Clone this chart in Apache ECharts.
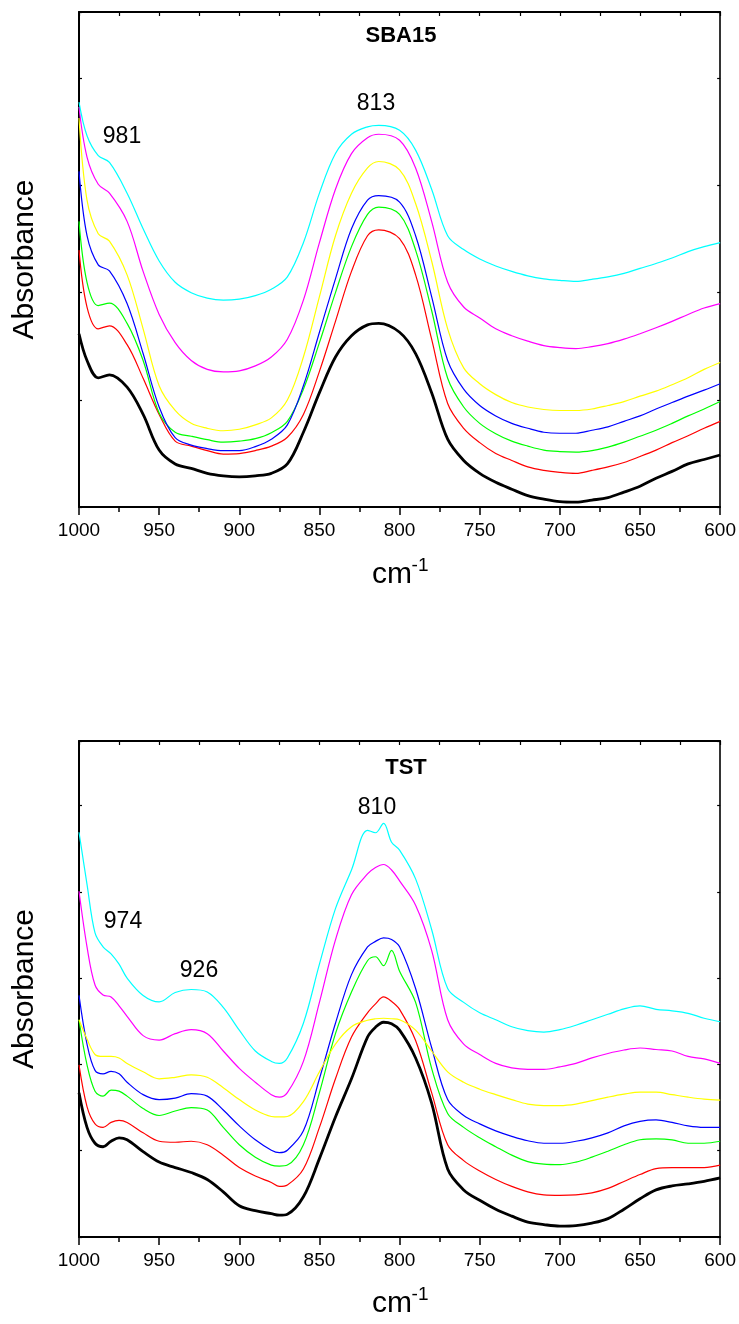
<!DOCTYPE html>
<html><head><meta charset="utf-8">
<script src="https://cdn.jsdelivr.net/npm/echarts@6/dist/echarts.min.js"></script>
<style>html,body{margin:0;padding:0;background:#fff}#c{width:739px;height:1324px}</style>
</head><body><div id="c"></div>
<script>
// ---------- DATA ----------
const seriesNames = ['black', 'red', 'green', 'blue', 'yellow', 'magenta', 'cyan'];
const seriesColors = ['#000000', '#ff0000', '#00ff00', '#0000ff', '#ffff00', '#ff00ff', '#00ffff'];
const xTickValues = [1000, 950, 900, 850, 800, 750, 700, 650, 600];

// SBA15 panel (wavenumber, cm-1)
const wnSBA = [1000, 995, 988, 981, 970, 960, 950, 940, 930, 920, 910, 900, 890, 880, 870, 860, 850, 840, 830, 820, 813,
  800, 790, 780, 770, 760, 750, 740, 730, 720, 710, 700, 690, 680, 670, 660, 650, 640, 630, 620, 610, 600];
const sbaBlack = [35.0, 29.6, 26.1, 26.7, 24.2, 18.7, 11.5, 8.7, 7.8, 6.8, 6.3, 6.1, 6.3, 6.8, 8.7, 15.1, 23.1, 30.3, 34.6, 36.8, 37.1,
  35.3, 31.0, 23.1, 13.7, 9.4, 6.8, 5.0, 3.6, 2.3, 1.6, 1.1, 1.0, 1.4, 1.9, 3.0, 4.2, 5.8, 7.2, 8.7, 9.6, 10.5];
const sbaRed = [51.9, 40.4, 36.0, 36.6, 32.8, 26.0, 18.7, 13.3, 12.3, 11.4, 10.7, 10.8, 11.4, 12.3, 14.1, 18.7, 27.4, 37.5, 47.6, 54.8, 56.0,
  54.2, 46.9, 33.9, 20.9, 15.9, 13.0, 10.8, 9.4, 8.1, 7.4, 7.0, 6.8, 7.4, 8.1, 9.0, 10.2, 11.5, 13.0, 14.4, 15.9, 17.3];
const sbaGreen = [57.7, 45.4, 40.7, 41.2, 37.1, 29.6, 19.0, 15.1, 14.3, 13.6, 13.1, 13.3, 13.8, 15.0, 17.3, 23.8, 33.2, 43.3, 52.6, 59.1, 60.6,
  59.1, 51.9, 39.7, 26.0, 20.2, 16.9, 14.8, 13.3, 12.3, 11.5, 11.2, 11.1, 11.4, 12.1, 13.1, 14.3, 15.5, 16.9, 18.4, 19.8, 21.3];
const sbaBlue = [67.8, 54.8, 48.9, 47.7, 41.1, 31.0, 20.2, 14.0, 12.5, 11.8, 11.4, 11.4, 12.2, 13.7, 16.6, 24.5, 35.3, 46.1, 56.2, 62.0, 62.9,
  61.6, 54.8, 42.5, 29.6, 23.8, 20.5, 18.4, 16.9, 15.9, 15.1, 14.9, 14.9, 15.5, 16.2, 17.3, 18.4, 19.8, 21.1, 22.4, 23.6, 24.9];
const sbaYellow = [78.6, 62.0, 55.2, 53.7, 46.9, 36.0, 24.5, 19.5, 16.9, 15.9, 15.4, 15.7, 16.6, 18.0, 21.6, 30.3, 42.5, 54.8, 63.4, 68.5, 69.8,
  68.1, 61.3, 49.7, 36.0, 28.1, 24.9, 22.7, 21.1, 20.2, 19.7, 19.5, 19.5, 19.8, 20.5, 21.3, 22.4, 23.4, 24.7, 26.1, 27.8, 29.2];
const sbaMagenta = [80.8, 70.7, 65.2, 63.4, 57.7, 47.6, 38.9, 33.2, 29.6, 27.8, 27.3, 27.5, 28.5, 30.3, 33.9, 41.8, 53.4, 64.2, 71.4, 74.6, 75.3,
  74.1, 68.5, 57.7, 45.4, 40.4, 38.2, 36.0, 34.6, 33.5, 32.6, 32.2, 32.0, 32.4, 33.0, 33.9, 35.0, 36.2, 37.5, 38.9, 40.2, 41.1];
const sbaCyan = [81.8, 75.0, 71.0, 69.6, 63.4, 56.2, 49.7, 45.4, 43.3, 42.2, 41.8, 42.0, 42.7, 44.0, 46.5, 53.4, 63.4, 71.4, 75.3, 76.8, 77.1,
  76.1, 72.1, 64.2, 54.8, 52.0, 50.1, 48.7, 47.6, 46.7, 46.1, 45.8, 45.6, 46.0, 46.5, 47.2, 48.2, 49.2, 50.3, 51.6, 52.6, 53.4];

// TST panel
const wnTST = [1000, 995, 990, 985, 980, 975, 970, 960, 950, 940, 930, 920, 910, 900, 890, 880, 875, 870, 860, 850, 840, 830, 820, 815, 810, 805,
  800, 790, 780, 770, 760, 750, 740, 730, 720, 710, 700, 690, 680, 670, 660, 650, 640, 630, 620, 610, 600];
const tstBlack = [29.1, 22.1, 18.9, 18.2, 19.3, 20.0, 19.6, 17.2, 15.1, 14.0, 13.0, 11.6, 9.1, 6.3, 5.3, 4.7, 4.4, 4.6, 8.1, 15.8, 24.2, 31.9, 40.3, 42.3, 43.3, 43.0,
  41.7, 36.1, 27.0, 13.7, 9.5, 7.4, 5.6, 4.2, 3.0, 2.5, 2.2, 2.3, 2.8, 3.7, 5.6, 7.7, 9.5, 10.3, 10.7, 11.2, 11.9];
const tstRed = [34.7, 26.3, 22.8, 22.1, 23.1, 23.5, 23.1, 21.0, 19.3, 19.1, 19.3, 18.6, 16.5, 14.0, 12.3, 11.0, 10.2, 10.5, 13.7, 22.1, 31.9, 40.3, 45.2, 47.0, 48.4, 47.5,
  45.9, 39.6, 29.1, 18.6, 15.4, 13.3, 11.6, 10.2, 9.1, 8.5, 8.4, 8.5, 8.9, 9.8, 11.2, 12.6, 13.8, 14.0, 14.0, 14.0, 14.5];
const tstGreen = [43.8, 34.7, 29.4, 28.4, 29.6, 29.4, 28.4, 25.9, 24.5, 25.4, 26.1, 25.6, 22.1, 18.6, 16.1, 14.5, 14.3, 14.5, 18.6, 29.1, 41.0, 49.4, 55.7, 56.5, 54.7, 57.8,
  53.6, 47.3, 34.0, 24.9, 22.1, 20.0, 18.2, 16.5, 15.2, 14.7, 14.6, 15.1, 16.1, 17.3, 18.6, 19.6, 19.8, 19.6, 18.9, 18.9, 19.3];
const tstBlue = [48.7, 38.9, 33.6, 32.9, 33.4, 32.9, 31.2, 28.7, 27.7, 28.0, 28.9, 28.4, 25.6, 22.4, 19.6, 17.5, 17.0, 17.5, 21.4, 31.9, 43.1, 52.9, 58.5, 59.6, 60.3, 60.0,
  58.5, 50.1, 38.2, 27.7, 24.5, 22.8, 21.4, 20.3, 19.4, 18.9, 18.9, 19.3, 20.0, 21.0, 22.4, 23.3, 23.6, 23.1, 22.4, 22.1, 22.1];
const tstYellow = [43.8, 39.9, 36.8, 36.4, 36.4, 36.1, 35.0, 33.3, 31.9, 32.2, 32.7, 32.2, 30.1, 27.7, 25.6, 24.3, 24.2, 24.3, 27.3, 33.3, 38.9, 42.4, 43.7, 44.0, 44.1, 44.0,
  43.8, 41.7, 37.5, 33.3, 31.2, 29.8, 28.7, 27.7, 26.8, 26.5, 26.5, 26.8, 27.5, 28.2, 28.8, 29.2, 29.2, 28.7, 28.2, 27.8, 27.6];
const tstMagenta = [69.7, 58.5, 50.8, 48.8, 48.4, 46.6, 44.5, 40.6, 39.7, 41.0, 41.8, 41.0, 37.5, 34.0, 31.2, 28.7, 28.2, 29.1, 35.4, 47.3, 59.9, 69.0, 73.2, 74.5, 75.1, 74.0,
  71.8, 66.9, 57.8, 43.8, 38.9, 36.8, 35.0, 34.1, 33.8, 33.8, 34.3, 35.0, 36.1, 37.0, 37.7, 38.1, 37.8, 37.5, 36.4, 35.9, 35.0];
const tstCyan = [81.6, 71.1, 61.3, 58.5, 57.1, 55.0, 52.2, 48.7, 47.4, 49.3, 49.9, 49.4, 46.3, 41.7, 37.5, 35.4, 35.0, 36.1, 43.1, 55.0, 66.2, 74.0, 82.0, 81.5, 83.4, 79.6,
  78.0, 72.2, 62.0, 50.1, 47.3, 45.2, 43.8, 42.4, 41.6, 41.3, 41.8, 42.7, 43.8, 44.9, 46.0, 46.6, 45.9, 45.6, 45.1, 44.1, 43.4];

const panelTitles = ['SBA15', 'TST'];
const peakLabelsSBA = ['981', '813'];
const peakLabelsTST = ['974', '926', '810'];

// ---------- CHART ----------
const FONT = '"Liberation Sans", Arial, Helvetica, sans-serif';
const panels = [
  { wn: wnSBA, vals: [sbaBlack, sbaRed, sbaGreen, sbaBlue, sbaYellow, sbaMagenta, sbaCyan], top: 12, height: 495, tickMin: -5.7, tickStep: 22.9 },
  { wn: wnTST, vals: [tstBlack, tstRed, tstGreen, tstBlue, tstYellow, tstMagenta, tstCyan], top: 741, height: 496, tickMin: -5.8, tickStep: 18.4 }
];
const LEFT = 79, WIDTH = 642;

const grid = [], xAxis = [], yAxis = [], series = [];
panels.forEach((p, i) => {
  grid.push({ left: LEFT, top: p.top, width: WIDTH, height: p.height, containLabel: false });
  xAxis.push({
    gridIndex: i, type: 'value', min: 600, max: 1000, inverse: true, interval: 50, position: 'bottom',
    axisLine: { show: true, onZero: false, lineStyle: { color: '#000', width: 2 } },
    axisTick: { show: true, inside: false, length: 8, lineStyle: { color: '#000', width: 1.5 } },
    minorTick: { show: true, splitNumber: 2, length: 5, lineStyle: { color: '#000', width: 1.5 } },
    axisLabel: {
      show: true, color: '#000', fontSize: 19, fontFamily: FONT, margin: 14,
      formatter: v => (xTickValues.indexOf(v) >= 0 ? String(v) : '')
    },
    splitLine: { show: false }, minorSplitLine: { show: false }
  });
  xAxis.push({
    gridIndex: i, type: 'value', min: 600, max: 1000, inverse: true, interval: 25, position: 'top',
    axisLine: { show: true, onZero: false, lineStyle: { color: '#000', width: 2 } },
    axisTick: { show: true, inside: true, length: 4, lineStyle: { color: '#000', width: 1.2 } },
    axisLabel: { show: false }, splitLine: { show: false }
  });
  yAxis.push({ gridIndex: i, type: 'value', min: 0, max: 100, show: false, splitLine: { show: false } });
  ['left', 'right'].forEach(pos => {
    yAxis.push({
      gridIndex: i, type: 'value', min: p.tickMin, max: 100, interval: p.tickStep, position: pos,
      axisLine: { show: true, onZero: false, lineStyle: { color: '#000', width: pos === 'left' ? 2 : 1.6 } },
      axisTick: { show: true, inside: true, length: 3, lineStyle: { color: '#000', width: 1.2 } },
      axisLabel: { show: false }, splitLine: { show: false }
    });
  });
  p.vals.forEach((arr, k) => {
    series.push({
      name: panelTitles[i] + ' ' + seriesNames[k], type: 'line',
      xAxisIndex: i * 2, yAxisIndex: i * 3,
      data: p.wn.map((w, j) => [w, arr[j]]),
      showSymbol: false, smooth: 0.35, animation: false, clip: true,
      lineStyle: { color: seriesColors[k], width: k === 0 ? 2.8 : 1.2 },
      z: k === 0 ? 3 : 2
    });
  });
});

function txt(text, x, y, size, extra) {
  return {
    type: 'text', x: x, y: y, silent: true,
    style: Object.assign({ text: text, fill: '#000', font: size + 'px ' + FONT, align: 'center', verticalAlign: 'middle' }, extra || {})
  };
}
const graphic = [];
panels.forEach((p, i) => {
  const off = p.top - 12;
  graphic.push(txt(panelTitles[i], i === 0 ? 401 : 406, p.top + (i === 0 ? 24 : 27), 22, { font: 'bold 22px ' + FONT }));
  graphic.push(Object.assign(txt('Absorbance', 25, p.top + p.height / 2, 30), { rotation: Math.PI / 2 }));
  graphic.push(txt('cm', 392, 575 + off, 30));
  graphic.push(txt('-1', 420, 566 + off, 19));
});
graphic.push(txt(peakLabelsSBA[0], 122, 137, 23));
graphic.push(txt(peakLabelsSBA[1], 376, 104, 23));
graphic.push(txt(peakLabelsTST[0], 123, 922, 23));
graphic.push(txt(peakLabelsTST[1], 199, 971, 23));
graphic.push(txt(peakLabelsTST[2], 377, 808, 23));

const chart = echarts.init(document.getElementById('c'), null, { renderer: 'canvas' });
chart.setOption({ backgroundColor: '#fff', animation: false, grid, xAxis, yAxis, series, graphic });
</script></body></html>
